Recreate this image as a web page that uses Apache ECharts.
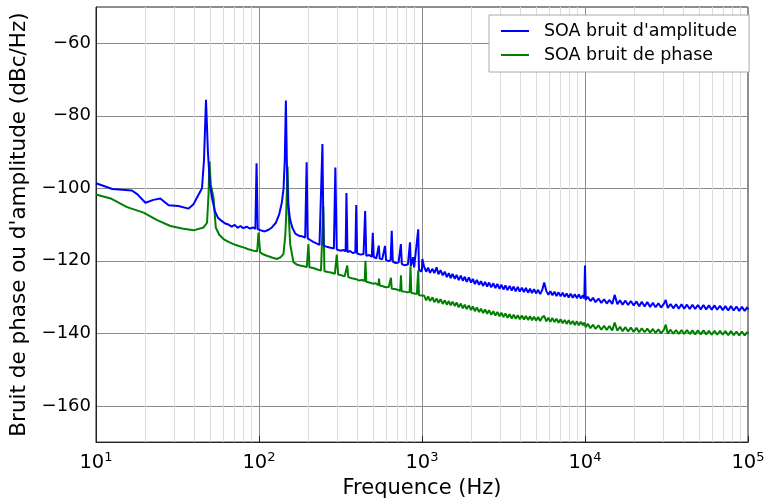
<!DOCTYPE html>
<html>
<head>
<meta charset="utf-8">
<script src="https://cdn.jsdelivr.net/npm/echarts@6/dist/echarts.min.js"></script>
<style>
html,body{margin:0;padding:0;background:#fff;}
#c{width:768px;height:504px;}
</style>
</head>
<body>
<div id="c"></div>
<script>
// ---- Data ----
const seriesNames = ["SOA bruit d'amplitude", "SOA bruit de phase"];

const ampFreq = [10,12.6,16.6,17.9,20.1,22.5,24.8,27.9,32,37,39.5,41.6,44.7,46,47.3,48.6,50,51.5,53.6,56,59,62,65,68,71,74,77,80,84,88,92,95,96.6,98.3,103,108,114,120,127,133,138,141.5,144,146.2,148.5,151,155,160,167,176,185,192,196,199,205,215,225,235,241,245,249,260,275,288,294,300,315,330,340,344,349,362,378,390,395,400,420,438,448,455,475,492,499,506,525,543,550,570,584,593,602,622,642,652,662,690,718,742,752,780,820,844,855,870,883,895,920,948,958,985,1000,1005,
1030,1060,1090,1120,1160,1190,1230,1260,1300,1340,1380,1420,1460,1500,1540,1590,1630,1680,1730,1780,1830,1880,1940,2000,2050,2110,2170,2240,2300,2370,2440,2510,2580,2660,2740,2820,2900,2990,3070,3160,3250,3350,3450,3550,3650,3760,3870,3980,4100,4220,4340,4470,4600,4730,4870,5010,5160,5310,5460,5620,5790,5960,6130,6310,6500,6680,6880,7080,7290,7500,7720,7940,8170,8410,8660,8910,9170,9440,9700,9900,10000,
10100,10400,10800,11200,11600,12100,12600,13100,13600,14100,14700,15200,15800,16400,17000,17700,18400,19100,19900,20700,21500,22300,23200,24100,25100,26100,27100,28200,29300,30500,31300,32200,33500,34800,36200,37600,39100,40600,42200,43900,45600,47400,49300,51300,53300,55400,57600,59900,62300,64700,67300,70000,72700,75600,78600,81700,84900,88300,91800,95400,99100,100000];
const ampDb = [-98.6,-100.2,-100.6,-101.6,-104.0,-103.2,-102.8,-104.7,-104.9,-105.6,-104.5,-102.6,-100.0,-92,-75.6,-90,-99,-102.6,-106.3,-108.1,-109.0,-109.7,-110.0,-110.6,-110.1,-110.9,-110.4,-111.0,-110.6,-111.1,-110.8,-111.2,-93.1,-111.3,-111.6,-111.9,-111.5,-110.8,-109.5,-107.2,-104.0,-100.0,-92,-75.8,-95,-104.5,-108.5,-110.8,-112.5,-113.1,-113.3,-113.6,-92.8,-113.8,-114.2,-114.8,-115.2,-115.6,-115.3,-87.8,-115.8,-116.1,-116.4,-116.6,-94.3,-116.9,-117.2,-117.0,-117.4,-101.3,-117.6,-117.3,-117.9,-117.6,-104.6,-118.0,-118.3,-118.1,-106.3,-118.6,-118.4,-118.9,-112.3,-119.0,-119.3,-115.8,-119.4,-119.6,-119.4,-115.9,-119.8,-120.1,-119.8,-111.7,-120.2,-120.6,-120.5,-115.4,-120.9,-121.2,-121.0,-114.9,-121.4,-121.6,-119.0,-121.8,-121.9,-111.3,-122.3,-123.0,-122.4,-119.5,
-121.6,-123.0,-121.9,-123.3,-122.2,-123.4,-121.8,-123.7,-122.6,-124.0,-123.0,-124.5,-123.4,-124.8,-123.6,-125.0,-123.9,-125.3,-124.1,-125.5,-124.4,-125.8,-124.6,-126.0,-125.0,-126.4,-125.3,-126.6,-125.6,-126.9,-125.8,-127.1,-126.0,-127.3,-126.2,-127.5,-126.4,-127.7,-126.6,-127.9,-126.8,-128.1,-126.9,-128.2,-127.1,-128.4,-127.2,-128.5,-127.4,-128.6,-127.5,-128.8,-127.7,-128.9,-127.8,-129.0,-128.0,-129.2,-128.1,-126.0,-128.3,-129.4,-128.4,-129.5,-128.5,-129.7,-128.7,-129.8,-128.8,-129.9,-129.0,-130.1,-129.1,-130.2,-129.2,-130.3,-129.3,-130.4,-129.5,-130.4,-121.3,
-130.8,-129.9,-131.1,-130.2,-131.4,-130.4,-131.6,-130.6,-131.8,-130.8,-131.9,-129.4,-132.0,-130.9,-132.1,-131.0,-132.2,-131.1,-132.3,-131.2,-132.5,-131.3,-132.6,-131.4,-132.7,-131.6,-132.8,-131.7,-132.9,-131.8,-130.8,-133.0,-131.9,-133.1,-132.0,-133.2,-132.0,-133.2,-132.1,-133.3,-132.1,-133.3,-132.2,-133.4,-132.2,-133.4,-132.3,-133.5,-132.3,-133.5,-132.4,-133.6,-132.5,-133.7,-132.5,-133.7,-132.6,-133.8,-132.7,-133.8,-132.8,-133.5];

const phaseFreq = [10,12.3,15.5,19.6,23.7,28.6,33.7,39.7,45.7,48,49,49.7,50.6,52.6,54.3,57,60.6,65,69.7,75,80.3,86,92.4,97.5,99.3,101.7,106,111.7,120,128.7,136,141.3,145,146.8,149.7,152,155.3,162.7,170,178.8,188,196.6,201,204,215,228,240,248,252,265,280,292,300,306,320,335,343,348,353,370,390,410,430,445,450,455,475,500,520,540,545,550,575,600,625,645,652,680,710,735,743,750,780,815,840,850,860,900,930,948,958,985,1000,
1030,1060,1090,1120,1160,1190,1230,1260,1300,1340,1380,1420,1460,1500,1540,1590,1630,1680,1730,1780,1830,1880,1940,2000,2050,2110,2170,2240,2300,2370,2440,2510,2580,2660,2740,2820,2900,2990,3070,3160,3250,3350,3450,3550,3650,3760,3870,3980,4100,4220,4340,4470,4600,4730,4870,5010,5160,5310,5460,5620,5790,5960,6130,6310,6500,6680,6880,7080,7290,7500,7720,7940,8170,8410,8660,8910,9170,9440,9700,9900,10000,
10100,10400,10800,11200,11600,12100,12600,13100,13600,14100,14700,15200,15800,16400,17000,17700,18400,19100,19900,20700,21500,22300,23200,24100,25100,26100,27100,28200,29300,30500,31300,32200,33500,34800,36200,37600,39100,40600,42200,43900,45600,47400,49300,51300,53300,55400,57600,59900,62300,64700,67300,70000,72700,75600,78600,81700,84900,88300,91800,95400,99100,100000];
const phaseDb = [-101.7,-102.8,-105.2,-106.7,-108.8,-110.4,-111.1,-111.6,-110.8,-109.5,-102,-92.6,-99,-102.6,-110.8,-112.8,-114.0,-114.8,-115.4,-115.9,-116.3,-116.8,-117.2,-117.4,-112.2,-117.7,-118.2,-118.6,-119.1,-119.5,-119.0,-118.1,-113,-107.2,-94.0,-107,-115.4,-120.4,-121.0,-121.3,-121.5,-121.7,-115.4,-121.8,-122.0,-122.4,-122.7,-104.9,-122.9,-123.1,-123.3,-123.6,-118.3,-123.8,-124.0,-124.3,-124.2,-121.3,-124.5,-124.8,-125.0,-125.4,-125.3,-125.6,-120.0,-125.8,-126.0,-126.3,-126.2,-126.7,-124.9,-126.8,-127.0,-127.3,-127.2,-124.7,-127.7,-127.8,-128.0,-128.3,-124.0,-128.4,-128.5,-128.7,-128.6,-121.5,-128.9,-129.0,-129.2,-122.6,-129.5,-129.8,-129.6,
-129.6,-130.9,-129.8,-131.1,-130.1,-131.4,-130.4,-131.6,-130.6,-131.9,-130.9,-132.1,-131.1,-132.3,-131.3,-132.5,-131.5,-132.8,-131.8,-133.1,-132.1,-133.3,-132.3,-133.6,-132.6,-133.9,-132.9,-134.1,-133.2,-134.4,-133.4,-134.6,-133.6,-134.9,-133.9,-135.1,-134.1,-135.3,-134.3,-135.5,-134.5,-135.7,-134.7,-135.9,-134.9,-136.0,-135.0,-136.1,-135.1,-136.2,-135.2,-136.3,-135.3,-136.4,-135.4,-136.5,-135.5,-136.6,-135.6,-135.2,-136.7,-135.7,-136.8,-135.8,-136.9,-136.0,-137.1,-136.1,-137.2,-136.3,-137.4,-136.4,-137.5,-136.6,-137.7,-136.7,-137.8,-136.8,-137.8,-137.0,-136.6,
-138.3,-137.4,-138.6,-137.6,-138.8,-137.8,-139.0,-137.9,-139.1,-138.0,-139.2,-137.0,-139.3,-138.2,-139.4,-138.3,-139.5,-138.4,-139.6,-138.5,-139.7,-138.6,-139.7,-138.7,-139.8,-138.8,-139.9,-138.9,-140.0,-139.0,-137.6,-140.1,-139.0,-140.1,-139.1,-140.2,-139.1,-140.2,-139.1,-140.2,-139.2,-140.3,-139.2,-140.3,-139.2,-140.3,-139.3,-140.4,-139.3,-140.4,-139.3,-140.4,-139.4,-140.5,-139.4,-140.5,-139.5,-140.6,-139.5,-140.6,-139.6,-140.2];

// tick values
const yTicks = [-160,-140,-120,-100,-80,-60];
const xMinorTicks = [20,30,40,50,60,70,80,90,200,300,400,500,600,700,800,900,2000,3000,4000,5000,6000,7000,8000,9000,20000,30000,40000,50000,60000,70000,80000,90000];

const FONT = 'DejaVu Sans';
const chart = echarts.init(document.getElementById('c'), null, {renderer: 'canvas'});

function pairs(fs, vs) { return fs.map((f, i) => [f, vs[i]]); }

const option = {
  backgroundColor: '#fff',
  animation: false,
  grid: { left: 96, right: 20, top: 7, bottom: 57, show: true, borderColor: '#222', borderWidth: 1, backgroundColor: 'transparent' },
  legend: {
    data: seriesNames,
    orient: 'vertical',
    left: 489, top: 15,
    padding: [6, 12, 7, 11],
    itemWidth: 28, itemHeight: 16, itemGap: 4,
    itemStyle: { opacity: 0 },
    backgroundColor: '#fff',
    borderColor: '#aaa', borderWidth: 1, borderRadius: 0,
    textStyle: { fontFamily: FONT, fontSize: 17.5, lineHeight: 20, color: '#000', padding: [0, 0, 0, 10] }
  },
  xAxis: {
    type: 'log', logBase: 10, min: 10, max: 100000,
    axisLine: { show: true, lineStyle: { color: '#222', width: 1 } },
    axisTick: { show: true, inside: true, length: 6, lineStyle: { color: '#222' } },
    splitLine: { show: true, lineStyle: { color: '#8c8c8c', width: 1 } },
    axisLabel: {
      margin: 9,
      formatter: v => '{b|10}{s|' + Math.round(Math.log10(v)) + '}',
      rich: {
        b: { fontFamily: FONT, fontSize: 19.5, color: '#000', lineHeight: 24, verticalAlign: 'middle' },
        s: { fontFamily: FONT, fontSize: 13, color: '#000', lineHeight: 13, verticalAlign: 'top' }
      }
    },
    name: 'Frequence (Hz)', nameLocation: 'middle', nameGap: 31,
    nameTextStyle: { fontFamily: FONT, fontSize: 21, color: '#000' }
  },
  yAxis: {
    type: 'value', min: -170, max: -50, splitNumber: 6,
    axisLine: { show: true, lineStyle: { color: '#222', width: 1 } },
    axisTick: { show: false },
    splitLine: { show: true, lineStyle: { color: '#8c8c8c', width: 1 } },
    axisLabel: {
      margin: 5, fontFamily: FONT, fontSize: 18, color: '#000',
      formatter: v => (yTicks.indexOf(v) >= 0 ? '\u2212' + Math.abs(v) : '')
    },
    name: "Bruit de phase ou d'amplitude (dBc/Hz)", nameLocation: 'middle', nameGap: 63,
    nameTextStyle: { fontFamily: FONT, fontSize: 21.5, color: '#000' }
  },
  series: [
    {
      name: 'minor', type: 'line', data: [], z: 1, silent: true,
      markLine: {
        silent: true, symbol: 'none', z: 1, animation: false,
        label: { show: false },
        lineStyle: { color: '#dcdcdc', type: 'solid', width: 1 },
        data: xMinorTicks.map(v => ({ xAxis: v }))
      }
    },
    {
      name: seriesNames[0], type: 'line', showSymbol: false, symbol: 'none', z: 3,
      lineStyle: { color: '#0000ff', width: 2 }, itemStyle: { color: '#0000ff' },
      data: pairs(ampFreq, ampDb)
    },
    {
      name: seriesNames[1], type: 'line', showSymbol: false, symbol: 'none', z: 2,
      lineStyle: { color: '#008000', width: 2 }, itemStyle: { color: '#008000' },
      data: pairs(phaseFreq, phaseDb)
    }
  ]
};
chart.setOption(option);
</script>
</body>
</html>
